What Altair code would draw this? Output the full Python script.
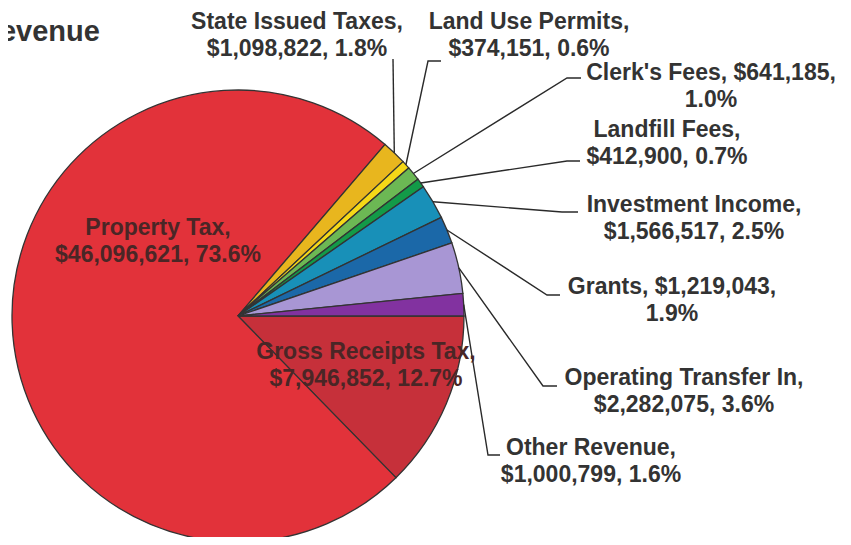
import math
import altair as alt
import pandas as pd

# ---- data ----
names = ["Gross Receipts Tax", "Property Tax", "State Issued Taxes", "Land Use Permits",
         "Clerk's Fees", "Landfill Fees", "Investment Income", "Grants",
         "Operating Transfer In", "Other Revenue"]
values = [7946852, 46096621, 1098822, 374151, 641185, 412900, 1566517, 1219043,
          2282075, 1000799]
colors = ["#c6303a", "#e2323a", "#e8b61e", "#f5d817", "#6cb854", "#139a48",
          "#1890b8", "#1b68a8", "#a896d4", "#8232a0"]

# ---- layout (svg pixel coordinates; first text line centre) ----
CX, CY, R = 230, 308, 226
label_pos = {
    "Gross Receipts Tax": (358, 344),
    "Property Tax": (150, 220),
    "State Issued Taxes": (289, 14),
    "Land Use Permits": (521, 14),
    "Clerk's Fees": (703, 65),
    "Landfill Fees": (659, 122),
    "Investment Income": (686, 197),
    "Grants": (664, 279),
    "Operating Transfer In": (676, 370),
    "Other Revenue": (583, 440),
}
break_after_value = {"Clerk's Fees", "Grants"}
leader = {  # elbow, end of horizontal stub
    "State Issued Taxes": [(385, 51), (385, 51)],
    "Land Use Permits": [(420, 53), (433, 53)],
    "Clerk's Fees": [(559, 70), (573, 70)],
    "Landfill Fees": [(559, 153), (572, 153)],
    "Investment Income": [(554, 204), (570, 204)],
    "Grants": [(539, 287), (552, 287)],
    "Operating Transfer In": [(535, 378), (549, 378)],
    "Other Revenue": [(480, 447), (492, 447)],
}

total = sum(values)
rows, text_rows, line_rows = [], [], []
cum = 0.0
for i, (n, v) in enumerate(zip(names, values)):
    frac = v / total
    mid = cum + frac / 2
    cum += frac
    rows.append({"name": n, "value": v, "idx": i})
    pct = f"{frac * 100:.1f}%"
    val = f"${v:,}"
    if n in break_after_value:
        label = f"{n}, {val},\n{pct}"
    else:
        label = f"{n},\n{val}, {pct}"
    lx, ly = label_pos[n]
    inside = n in ("Gross Receipts Tax", "Property Tax")
    text_rows.append({"name": n, "label": label, "lx": lx, "ly": ly,
                      "col": "#4a2626" if inside else "#333333"})
    if n in leader:
        ang = math.pi / 2 + 2 * math.pi * mid
        ex, ey = CX + R * math.sin(ang), CY - R * math.cos(ang)
        pts = [(ex, ey)] + leader[n]
        for k, (px, py) in enumerate(pts):
            line_rows.append({"name": n, "k": k, "px": px, "py": py})

df = pd.DataFrame(rows)
tdf = pd.DataFrame(text_rows)
ldf = pd.DataFrame(line_rows)

pie = alt.Chart(df).mark_arc(outerRadius=R, stroke="#333333", strokeWidth=1.3).encode(
    theta=alt.Theta("value:Q", stack=True,
                    scale=alt.Scale(domain=[0, total], range=[math.pi / 2, 5 * math.pi / 2])),
    color=alt.Color("name:N", scale=alt.Scale(domain=names, range=colors), legend=None),
    order=alt.Order("idx:Q", sort="ascending"),
    x=alt.value(CX),
    y=alt.value(CY),
)

lines = alt.Chart(ldf).mark_line(color="#2a2a2a", strokeWidth=1.4).encode(
    x=alt.X("px:Q", scale=None),
    y=alt.Y("py:Q", scale=None),
    detail="name:N",
    order="k:Q",
)

labels = alt.Chart(tdf).mark_text(
    font="Liberation Sans", fontWeight="bold", fontSize=23, lineBreak="\n",
    lineHeight=27, align="center", baseline="middle",
).encode(
    x=alt.X("lx:Q", scale=None),
    y=alt.Y("ly:Q", scale=None),
    text="label:N",
    color=alt.Color("col:N", scale=None),
)

title = alt.Chart(pd.DataFrame({"t": ["Revenue"]})).mark_text(
    font="Liberation Sans", fontWeight="bold", fontSize=29, align="left",
    baseline="middle", color="#333333",
).encode(x=alt.value(-29), y=alt.value(24), text="t:N")

chart = alt.layer(pie, lines, labels, title).properties(
    width=835, height=529, padding=0, autosize=alt.AutoSizeParams(type="none"),
).configure_view(stroke=None)

chart.save("out.html", embed_options={"renderer": "svg", "actions": False})
